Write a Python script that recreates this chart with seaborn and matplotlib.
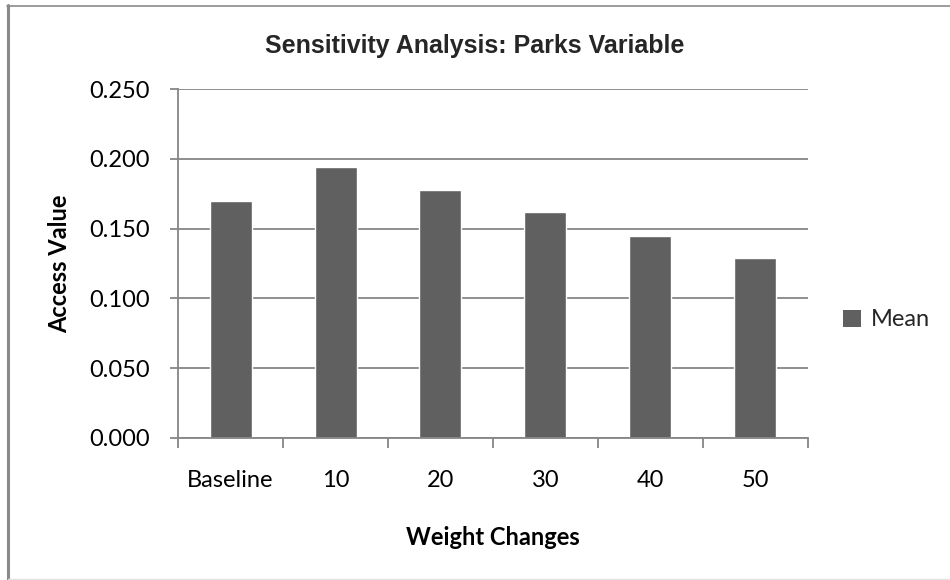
import matplotlib
matplotlib.use("Agg")
import matplotlib.pyplot as plt
import seaborn as sns
import pandas as pd
from matplotlib.patches import Patch
from matplotlib.lines import Line2D

# Data
categories = ["Baseline", "10", "20", "30", "40", "50"]
mean_values = [0.170, 0.194, 0.178, 0.162, 0.145, 0.129]
series_name = "Mean"
y_ticks = [0.000, 0.050, 0.100, 0.150, 0.200, 0.250]

sns.set_theme(style="white")
plt.rcParams["font.family"] = ["Lato", "DejaVu Sans"]

BAR = "#606060"
AXIS = "#868686"
W, H = 950, 580

df = pd.DataFrame({"Weight Changes": categories, "Access Value": mean_values})

fig = plt.figure(figsize=(W / 100, H / 100), dpi=100)
fig.patch.set_facecolor("white")
ax = fig.add_axes([178 / W, 1 - 438 / H, 630 / W, 349 / H])

sns.barplot(data=df, x="Weight Changes", y="Access Value", color=BAR,
            saturation=1, width=0.4, ax=ax, errorbar=None)

ax.set_xlim(-0.5, len(categories) - 0.5)
ax.set_ylim(0, 0.25)
ax.set_yticks(y_ticks)
ax.set_yticklabels([f"{v:.3f}" for v in y_ticks])

# Horizontal gridlines behind the bars
ax.set_axisbelow(True)
ax.yaxis.grid(True, color=AXIS, linewidth=1.3)
ax.xaxis.grid(False)

for side in ("top", "right"):
    ax.spines[side].set_visible(False)
for side in ("left", "bottom"):
    ax.spines[side].set_color(AXIS)
    ax.spines[side].set_linewidth(1.3)

# Category boundary ticks on the x axis
ax.set_xticks([i - 0.5 for i in range(len(categories) + 1)], minor=True)
ax.tick_params(axis="x", which="major", length=0, pad=23, labelsize=17, colors="black")
ax.tick_params(axis="x", which="minor", length=7, width=1.3, color=AXIS, direction="out", bottom=True)
ax.tick_params(axis="y", which="major", length=6, width=1.3, color=AXIS, direction="out",
               pad=14, labelsize=17, left=True, labelcolor="black")

ax.set_xlabel("Weight Changes", fontsize=17, fontweight="bold", labelpad=25, color="black")
ax.set_ylabel("Access Value", fontsize=17, fontweight="bold", labelpad=13, color="black")

fig.text(0.5, 1 - 46 / H, "Sensitivity Analysis: Parks Variable",
         family=["Liberation Sans", "DejaVu Sans"], fontweight="bold", fontsize=18,
         ha="center", va="center")

# Legend
fig.legend(handles=[Patch(facecolor=BAR, edgecolor="none", label=series_name)],
           loc="center left", bbox_to_anchor=(843 / W, 1 - 320 / H), frameon=False,
           handlelength=0.75, handleheight=0.75, handletextpad=0.45, fontsize=17,
           borderpad=0, borderaxespad=0)

# Chart-area frame
fig.add_artist(Line2D([7.5 / W, 7.5 / W], [0, 1 - 5 / H], transform=fig.transFigure,
                      color="#8a8a8a", linewidth=2.2))
fig.add_artist(Line2D([6.5 / W, 1], [1 - 5.5 / H, 1 - 5.5 / H], transform=fig.transFigure,
                      color="#8a8a8a", linewidth=1.2))
fig.add_artist(Line2D([8 / W, 1], [1 - 578.5 / H, 1 - 578.5 / H], transform=fig.transFigure,
                      color="#e4e4e4", linewidth=1.0))

fig.savefig("out.png", dpi=100, facecolor="white")
